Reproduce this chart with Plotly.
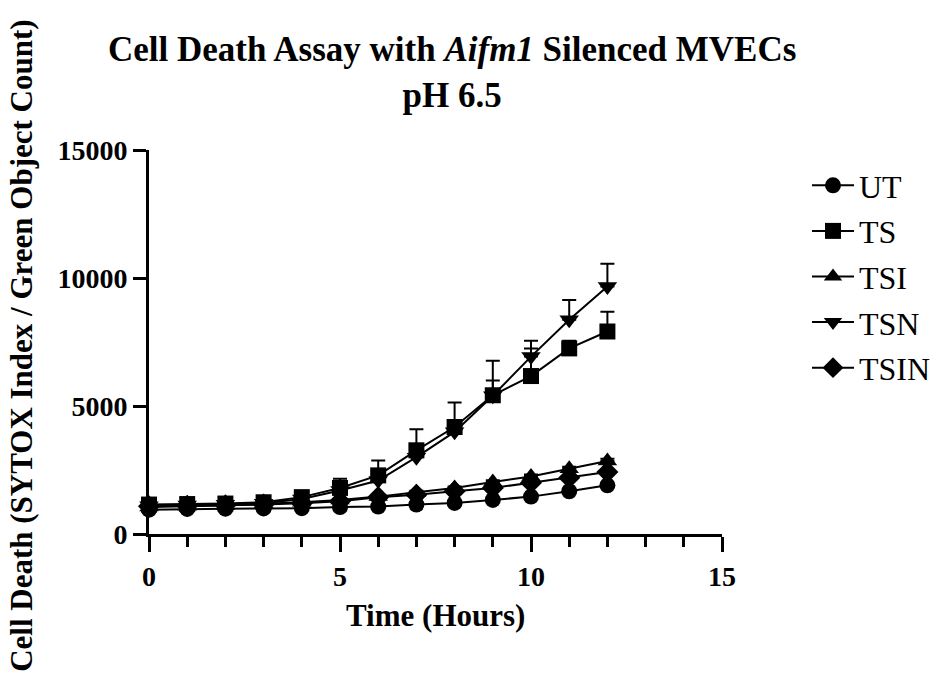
import plotly.graph_objects as go

hours = [0, 1, 2, 3, 4, 5, 6, 7, 8, 9, 10, 11, 12]
series_names = ["UT", "TS", "TSI", "TSN", "TSIN"]
UT = [950, 980, 990, 1000, 1010, 1050, 1070, 1150, 1215, 1330, 1460, 1670, 1900]
UT_err = [30, 30, 30, 30, 30, 40, 40, 40, 50, 50, 60, 60, 70]
TS = [1150, 1170, 1190, 1240, 1440, 1800, 2290, 3270, 4180, 5420, 6170, 7250, 7910]
TS_err = [50, 50, 60, 70, 80, 360, 585, 820, 960, 1350, 1080, 300, 770]
TSI = [1050, 1080, 1110, 1180, 1240, 1330, 1460, 1630, 1800, 2030, 2250, 2550, 2850]
TSI_err = [30, 30, 30, 40, 40, 50, 50, 60, 60, 70, 70, 80, 90]
TSN = [1100, 1130, 1160, 1200, 1370, 1700, 2090, 3000, 3990, 5400, 6930, 8365, 9670]
TSN_err = [50, 50, 50, 60, 80, 150, 200, 250, 300, 600, 620, 780, 890]
TSIN = [1080, 1100, 1120, 1150, 1200, 1280, 1440, 1530, 1670, 1800, 2000, 2200, 2420]
TSIN_err = [30, 30, 30, 30, 40, 40, 50, 50, 60, 60, 70, 70, 80]

x_ticks = [0, 5, 10, 15]
y_ticks = [0, 5000, 10000, 15000]

values = [UT, TS, TSI, TSN, TSIN]
errors = [UT_err, TS_err, TSI_err, TSN_err, TSIN_err]
symbols = ["circle", "square", "triangle-up", "triangle-down", "diamond"]
sizes = [16, 16, 17, 17, 17]

FONT = "Liberation Serif"
LEG_FONT = "Liberation Serif, Times New Roman, serif"
L, R, T, B = 149, 722, 150, 534
PW, PH = R - L, B - T

fig = go.Figure()
for i, (name, y, e, sym, sz) in enumerate(zip(series_names, values, errors, symbols, sizes)):
    fig.add_trace(go.Scatter(
        x=hours, y=y, mode="lines+markers", name=name,
        line=dict(color="black", width=2),
        marker=dict(symbol=sym, size=sz, color="black"),
        error_y=dict(type="data", array=e, arrayminus=[0] * len(e), symmetric=False,
                     color="black", thickness=2, width=7),
        cliponaxis=False,
        legendgroup=name,
    ))

fig.update_layout(
    width=944, height=675,
    margin=dict(l=L, r=944 - R, t=T, b=675 - B),
    paper_bgcolor="white", plot_bgcolor="white",
    font=dict(family=FONT, color="black"),
    xaxis=dict(
        range=[0, 15], tickvals=x_ticks, ticktext=["<b>%d</b>" % v for v in x_ticks],
        showgrid=False, zeroline=False,
        showline=True, linecolor="black", linewidth=3,
        ticks="outside", ticklen=15, tickwidth=3, tickcolor="black",
        tickfont=dict(family=FONT, size=28, color="black"),
        minor=dict(dtick=1, ticks="outside", ticklen=10, tickwidth=3, tickcolor="black", showgrid=False),
    ),
    yaxis=dict(
        range=[0, 15000], tickvals=y_ticks, ticktext=["<b>%d</b>" % v for v in y_ticks],
        showgrid=False, zeroline=False,
        showline=True, linecolor="black", linewidth=3,
        ticks="outside", ticklen=13, tickwidth=3, tickcolor="black",
        tickfont=dict(family=FONT, size=28, color="black"),
    ),
    legend=dict(
        xref="container", yref="container",
        x=807 / 944, y=1 - 158 / 675, xanchor="left", yanchor="top",
        font=dict(family=LEG_FONT, size=32, color="black"),
        tracegroupgap=1, itemwidth=42, bgcolor="rgba(0,0,0,0)",
    ),
    annotations=[
        dict(text="<b>Cell Death Assay with <i>Aifm1</i> Silenced MVECs<br>pH 6.5</b>",
             xref="paper", yref="paper",
             x=(452 - L) / PW, y=(B - 72) / PH, xanchor="center", yanchor="middle",
             showarrow=False, font=dict(family=FONT, size=35, color="black")),
        dict(text="<b>Time (Hours)</b>", xref="paper", yref="paper",
             x=0.5, y=-(615 - B) / PH, xanchor="center", yanchor="middle",
             showarrow=False, font=dict(family=FONT, size=31, color="black")),
        dict(text="<b>Cell Death (SYTOX Index / Green Object Count)</b>", xref="paper", yref="paper",
             x=(22 - L) / PW, y=0.49, xanchor="center", yanchor="middle", textangle=-90,
             showarrow=False, font=dict(family=FONT, size=31, color="black")),
    ],
)

fig.write_html("out.html")
